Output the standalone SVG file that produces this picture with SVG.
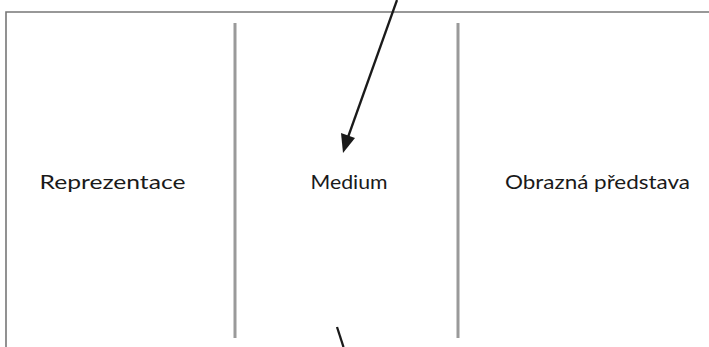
<svg xmlns="http://www.w3.org/2000/svg" width="709" height="347" viewBox="0 0 709 347">
<style>
.frame{stroke:#777;stroke-width:1.6;fill:none}
.sep{stroke:#9a9a9a;stroke-width:3;fill:none}
.lbl{font-family:Lato,"Liberation Sans",sans-serif;font-size:20px;fill:#1a1a1a;text-anchor:middle}
.conn{stroke:#1a1a1a;stroke-width:2.3;fill:none}
</style>
<rect width="709" height="347" fill="#fff"/>
<path class="frame" d="M6,347 V12 H709"/>
<line class="sep" x1="235" y1="23" x2="235" y2="338"/>
<line class="sep" x1="458" y1="23" x2="458" y2="338"/>
<g id="n1"><text class="lbl" x="112.5" y="189" textLength="146" lengthAdjust="spacingAndGlyphs">Reprezentace</text></g>
<g id="n2"><text class="lbl" x="349" y="189" textLength="77" lengthAdjust="spacingAndGlyphs">Medium</text></g>
<g id="n3"><text class="lbl" x="597.5" y="189" textLength="185" lengthAdjust="spacingAndGlyphs">Obrazná představa</text></g>
<g id="connectors">
<path d="M397,0 L347,140" class="conn"/>
<polygon points="343,153 341,133 355,138" fill="#1a1a1a"/>
<path d="M337,327 L343.5,347" class="conn"/>
</g>
</svg>
